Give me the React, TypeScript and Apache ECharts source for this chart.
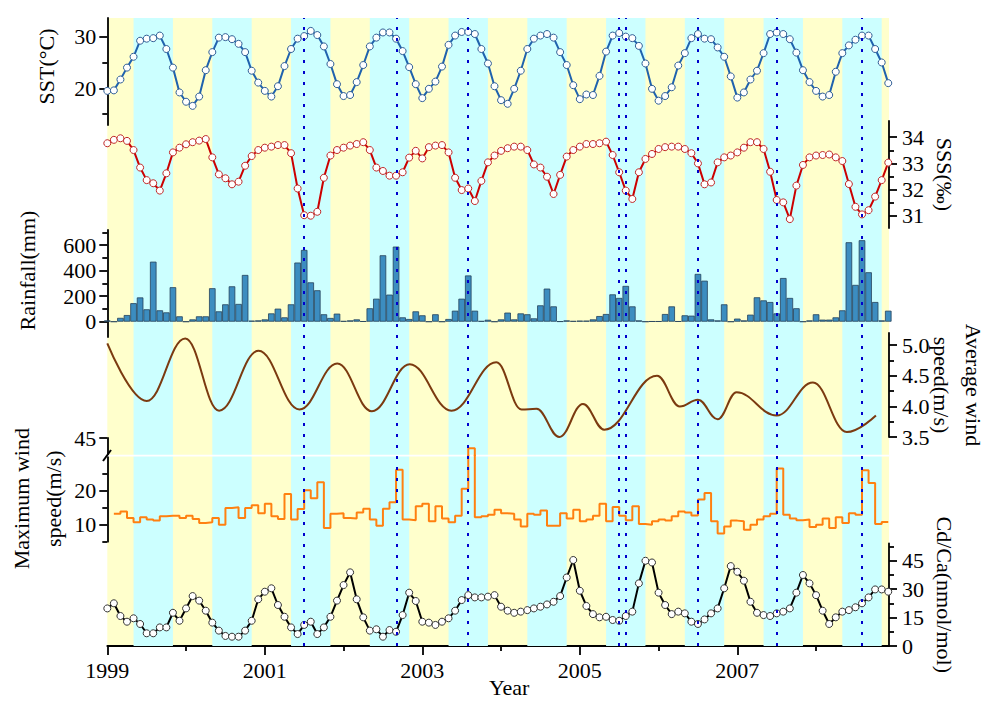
import React, { useEffect, useRef } from "react";
import * as echarts from "echarts";

// ---------- DATA ----------
const START_YEAR = 1999;
const monthX: number[] = Array.from({ length: 120 }, (_, i) => START_YEAR + i / 12);

const yearTicksMajor = [1999, 2001, 2003, 2005, 2007];
const yearTicksMinor = [2000, 2002, 2004, 2006, 2008];
const wetSeasonYears = [1999, 2000, 2001, 2002, 2003, 2004, 2005, 2006, 2007, 2008];
const WET_FIRST_MONTH = 5; // May
const WET_LAST_MONTH = 10; // October
const typhoonMonths: [number, number][] = [
  [2001, 7], [2002, 9], [2003, 8], [2005, 7], [2005, 8], [2006, 7], [2007, 7], [2008, 8],
];

const sst = [
  19.5, 19.6, 21.7, 24.0, 26.1, 29.2, 29.6, 29.7, 30.2, 27.6, 24.0, 19.2,
  17.4, 16.6, 18.4, 23.5, 27.0, 29.8, 29.9, 29.5, 28.6, 27.0, 23.4, 21.1,
  19.5, 18.4, 20.4, 24.3, 27.6, 29.6, 30.1, 31.1, 30.3, 28.1, 24.7, 20.8,
  18.5, 18.7, 21.2, 24.5, 28.1, 29.8, 30.8, 30.8, 29.6, 27.2, 24.1, 20.8,
  18.1, 19.9, 21.3, 24.2, 28.4, 30.2, 30.9, 30.9, 30.5, 27.6, 24.8, 20.4,
  17.7, 17.0, 19.9, 23.4, 27.6, 29.6, 30.2, 30.5, 29.8, 27.0, 24.5, 20.6,
  17.9, 18.8, 18.7, 22.4, 27.1, 30.2, 30.7, 30.0, 29.7, 28.2, 24.8, 19.9,
  17.6, 18.5, 20.2, 24.4, 26.8, 29.7, 30.5, 29.6, 29.5, 27.9, 26.1, 22.3,
  18.2, 19.2, 21.7, 23.4, 26.8, 30.5, 30.8, 30.5, 29.5, 26.9, 23.5, 21.2,
  19.5, 18.4, 18.7, 23.2, 26.8, 28.3, 29.4, 30.2, 30.2, 27.6, 25.0, 21.0,
];

const sss = [
  33.77, 33.90, 33.96, 33.86, 33.51, 32.84, 32.36, 32.24, 31.96, 32.62, 33.42, 33.60,
  33.73, 33.81, 33.87, 33.93, 33.23, 32.58, 32.43, 32.20, 32.30, 32.91, 33.28, 33.51,
  33.60, 33.64, 33.70, 33.70, 33.39, 32.04, 31.02, 31.00, 31.15, 32.45, 33.30, 33.51,
  33.60, 33.68, 33.74, 33.81, 33.51, 32.84, 32.71, 32.53, 32.53, 32.66, 33.22, 33.48,
  33.19, 33.62, 33.68, 33.70, 33.42, 32.45, 31.98, 32.04, 31.56, 32.33, 33.04, 33.30,
  33.48, 33.58, 33.64, 33.64, 33.51, 32.96, 32.84, 32.49, 31.83, 32.56, 33.26, 33.51,
  33.64, 33.74, 33.74, 33.77, 33.83, 33.32, 32.66, 31.96, 31.64, 32.66, 33.17, 33.36,
  33.55, 33.62, 33.64, 33.64, 33.55, 33.39, 33.00, 32.20, 32.27, 33.04, 33.23, 33.30,
  33.42, 33.60, 33.81, 33.81, 33.55, 32.68, 31.60, 31.51, 30.87, 32.15, 32.94, 33.23,
  33.30, 33.32, 33.34, 33.23, 33.09, 32.21, 31.34, 31.05, 31.21, 31.73, 32.36, 33.03,
];

const rainfall = [
  10, 0, 30, 52, 145, 190, 97, 470, 89, 73, 270, 42,
  0, 18, 42, 42, 262, 81, 136, 277, 139, 366, 8, 10,
  18, 65, 102, 34, 136, 463, 562, 308, 246, 58, 29, 63,
  5, 10, 18, 3, 105, 180, 520, 212, 588, 34, 21, 81,
  50, 0, 58, 0, 21, 86, 180, 362, 86, 5, 15, 0,
  18, 71, 18, 65, 58, 26, 128, 259, 120, 2, 10, 5,
  8, 8, 18, 44, 60, 214, 186, 280, 120, 10, 0, 3,
  3, 60, 120, 3, 50, 47, 374, 321, 18, 10, 136, 0,
  24, 10, 55, 191, 167, 154, 65, 342, 186, 105, 0, 10,
  58, 16, 16, 34, 89, 622, 288, 638, 387, 154, 10, 86,
];

// smoothed average wind speed: turning points [decimal year, m/s]
const avgWind: [number, number][] = [
  [1999.0, 5.03], [1999.5, 4.09], [1999.99, 5.11], [2000.42, 3.93], [2000.92, 4.91],
  [2001.44, 3.95], [2001.92, 4.70], [2002.36, 3.92], [2002.84, 4.69], [2003.37, 3.93],
  [2003.94, 4.72], [2004.26, 3.95], [2004.45, 3.96], [2004.74, 3.50], [2005.04, 4.04],
  [2005.31, 3.62], [2005.98, 4.50], [2006.27, 4.00], [2006.50, 4.11], [2006.75, 3.79],
  [2006.99, 4.23], [2007.50, 3.85], [2007.96, 4.39], [2008.39, 3.58], [2008.76, 3.85],
];

const maxWind: (number | null)[] = [
  null, 13.2, 13.9, 12.0, 10.7, 12.2, 11.5, 11.2, 12.5, 12.6, 12.6, 12.0,
  12.6, 11.7, 10.5, 10.7, 12.0, 10.0, 14.9, 15.1, 12.0, 14.9, 15.7, 13.4,
  16.2, 12.5, 11.7, 19.0, 11.5, 14.6, 20.1, 17.8, 22.5, 9.0, 13.2, 13.4,
  12.0, 11.8, 13.6, 14.7, 11.5, 9.7, 14.7, 16.6, 26.2, 11.5, 11.3, 15.4,
  16.2, 11.0, 15.4, 11.8, 10.7, 12.6, 20.6, 42.0, 12.2, 12.5, 12.9, 14.4,
  13.4, 13.2, 11.5, 9.5, 13.2, 12.9, 14.2, 9.7, 9.7, 13.4, 11.8, 14.4,
  11.0, 11.5, 12.6, 16.2, 11.0, 15.2, 12.6, 11.3, 15.4, 10.2, 10.0, 11.0,
  11.5, 11.2, 12.5, 13.9, 13.6, 12.7, 17.4, 19.3, 11.0, 7.4, 9.5, 11.2,
  11.0, 8.5, 10.0, 11.5, 12.5, 13.2, 26.5, 12.9, 11.8, 11.3, 11.5, 9.3,
  10.0, 11.8, 9.0, 12.2, 10.5, 13.4, 12.9, 26.0, 22.3, 10.2, 10.8, 10.8,
];

const cdca = [
  19.8, 22.5, 15.8, 12.8, 14.6, 11.6, 6.7, 6.7, 9.8, 9.8, 17.5, 13.3,
  19.8, 26.3, 23.9, 18.6, 12.3, 8.1, 5.3, 4.9, 4.9, 8.1, 13.3, 24.6,
  28.6, 30.4, 21.6, 15.4, 9.8, 6.3, 11.1, 12.8, 6.3, 9.8, 15.4, 23.9,
  32.1, 38.8, 24.6, 15.1, 8.1, 8.8, 4.9, 8.4, 7.5, 16.3, 28.1, 23.7,
  12.8, 12.3, 11.1, 12.8, 14.6, 18.6, 24.2, 26.8, 25.6, 25.6, 26.0, 26.8,
  20.7, 18.6, 17.5, 18.1, 18.9, 19.8, 20.7, 21.9, 23.3, 26.3, 36.1, 45.3,
  29.1, 21.1, 16.8, 15.1, 15.4, 13.7, 13.3, 15.8, 18.1, 33.0, 44.9, 44.0,
  28.1, 21.6, 16.8, 18.1, 17.2, 12.8, 11.6, 14.0, 17.2, 19.8, 30.4, 42.1,
  39.1, 34.4, 23.3, 17.5, 16.3, 15.8, 17.2, 18.1, 19.8, 28.1, 37.4, 33.0,
  26.8, 18.6, 11.6, 15.1, 18.1, 18.9, 20.4, 22.5, 25.6, 29.8, 29.8, 28.6,
];

// ---------- LAYOUT / STYLE ----------
const X_MIN = 1999;
const X_MAX = 2008.926;
const FONT = "'Liberation Serif', 'Times New Roman', serif";
const FS = 22;
const GL = 107.3;
const GW = 781.7;

const pairs = (arr: (number | null)[]) =>
  arr.map((v, i) => [monthX[i], v]).filter((d) => d[1] !== null);

const grid = (top: number, height: number) => ({
  left: GL, width: GW, top, height, show: false, outerBoundsMode: "none",
});

const xHidden = (gridIndex: number) => ({
  type: "value", gridIndex, min: X_MIN, max: X_MAX, show: false,
});

const lineStyleAxis = { color: "#000", width: 1.8 };

function yMain(gridIndex: number, position: string, min: number, max: number, major: number[], o: any) {
  return {
    type: "value", gridIndex, position, min, max,
    axisLine: { show: true, onZero: false, lineStyle: lineStyleAxis },
    axisTick: { show: true, customValues: major, length: 8, lineStyle: lineStyleAxis },
    axisLabel: {
      show: true, customValues: major, formatter: o.fmt || ((v: number) => String(v)),
      fontSize: FS, fontFamily: FONT, color: "#000", margin: o.margin,
    },
    splitLine: { show: false },
    name: o.name || "",
    nameLocation: "middle",
    nameGap: o.nameGap || 0,
    nameMoveOverlap: false,
    nameRotate: position === "right" ? -90 : 90,
    nameTextStyle: {
      fontSize: FS, fontFamily: FONT, color: "#000", lineHeight: o.lh || 30,
      padding: o.namePad || 0,
    },
  };
}

function yMinor(gridIndex: number, position: string, min: number, max: number, minor: number[]) {
  return {
    type: "value", gridIndex, position, min, max,
    axisLine: { show: false },
    axisTick: { show: true, customValues: minor, length: 5, lineStyle: lineStyleAxis },
    axisLabel: { show: false },
    splitLine: { show: false },
  };
}

export default function App() {
  const ref = useRef<HTMLDivElement>(null);

  useEffect(() => {
    if (!ref.current) return;
    const chart = echarts.init(ref.current, null, { renderer: "svg" });

    const wetBands = wetSeasonYears.map((y) => [
      { xAxis: y + (WET_FIRST_MONTH - 1) / 12 },
      { xAxis: y + WET_LAST_MONTH / 12 },
    ]);
    const typhoonLines = typhoonMonths.map(([y, m]) => ({ xAxis: y + (m - 1) / 12 }));

    const option: any = {
      animation: false,
      grid: [
        { left: GL, width: GW, top: 18, height: 628, show: true, backgroundColor: "#FFFFCC", borderWidth: 0, outerBoundsMode: "none" },
        grid(18, 107),      // 1 SST
        grid(121, 107),     // 2 SSS
        grid(230, 107),     // 3 Rainfall
        grid(333, 104),     // 4 Avg wind
        grid(438, 17),      // 5 Max wind upper
        grid(455.7, 86),    // 6 Max wind lower
        grid(543.5, 102.5), // 7 Cd/Ca
      ],
      xAxis: [
        xHidden(0), xHidden(1), xHidden(2), xHidden(3), xHidden(4), xHidden(5), xHidden(6),
        {
          type: "value", gridIndex: 7, position: "bottom", min: X_MIN, max: X_MAX,
          axisLine: { show: true, onZero: false, lineStyle: lineStyleAxis },
          axisTick: { show: true, customValues: yearTicksMajor, length: 9, lineStyle: lineStyleAxis },
          axisLabel: {
            show: true, customValues: yearTicksMajor, formatter: (v: number) => String(v),
            fontSize: FS, fontFamily: FONT, color: "#000", margin: 13,
          },
          splitLine: { show: false },
          name: "Year", nameLocation: "middle", nameGap: 30, nameMoveOverlap: false,
          nameTextStyle: { fontSize: FS, fontFamily: FONT, color: "#000", padding: [0, 0, 0, 22] },
        },
        {
          type: "value", gridIndex: 7, position: "bottom", min: X_MIN, max: X_MAX,
          axisLine: { show: false },
          axisTick: { show: true, customValues: yearTicksMinor, length: 5, lineStyle: lineStyleAxis },
          axisLabel: { show: false },
          splitLine: { show: false },
        },
      ],
      yAxis: [
        { type: "value", gridIndex: 0, min: 0, max: 1, show: false },                        // 0
        yMain(1, "left", 12.9, 33.6, [20, 30], { name: "SST(°C)", nameGap: 46, margin: 11, namePad: [0, 0, 0, 10] }), // 1
        yMinor(1, "left", 12.9, 33.6, [15, 25]),                                              // 2
        yMain(2, "right", 30.53, 34.62, [31, 32, 33, 34], { name: "SSS(‰)", nameGap: 40, margin: 13 }), // 3
        yMinor(2, "right", 30.53, 34.62, [31.5, 32.5, 33.5]),                                 // 4
        yMain(3, "left", -120, 718, [0, 200, 400, 600], { name: "Rainfall(mm)", nameGap: 65, margin: 11, namePad: [0, 0, 0, 26] }), // 5
        yMinor(3, "left", -120, 718, [100, 300, 500, 700]),                                   // 6
        yMain(4, "right", 3.5, 5.2, [3.5, 4.0, 4.5, 5.0], {
          name: "Average wind\nspeed(m/s)", nameGap: 36, lh: 32, margin: 13, fmt: (v: number) => v.toFixed(1),
        }),                                                                                   // 7
        yMinor(4, "right", 3.5, 5.2, [3.75, 4.25, 4.75]),                                     // 8
        yMain(5, "left", 40, 45, [45], { margin: 11 }),                                       // 9
        yMain(6, "left", 5, 30.3, [10, 20], { name: "Maximum wind\nspeed(m/s)", nameGap: 38, lh: 32, margin: 11 }), // 10
        yMinor(6, "left", 5, 30.3, [5, 15, 25]),                                              // 11
        yMain(7, "right", 0, 54, [0, 15, 30, 45], { name: "Cd/Ca(nmol/mol)", nameGap: 40, margin: 13 }), // 12
        yMinor(7, "right", 0, 54, [7.5, 22.5, 37.5, 52.5]),                                   // 13
      ],
      graphic: [
        { type: "rect", z: 1.5, silent: true, shape: { x: GL, y: 454.8, width: GW, height: 1.6 }, style: { fill: "#ffffff" } },
        { type: "line", z: 20, silent: true, shape: { x1: 103, y1: 461, x2: 111, y2: 450 }, style: { stroke: "#000", lineWidth: 2 } },
      ],
      series: [
        {
          name: "wet season", type: "line", xAxisIndex: 0, yAxisIndex: 0,
          data: [[X_MIN, -1]], showSymbol: false, silent: true, lineStyle: { width: 0 },
          markArea: { silent: true, z: 1, itemStyle: { color: "#CCFFFF" }, data: wetBands },
        },
        {
          name: "typhoon", type: "line", xAxisIndex: 0, yAxisIndex: 0,
          data: [[X_MIN, -1]], showSymbol: false, silent: true, lineStyle: { width: 0 },
          markLine: {
            silent: true, z: 5, symbol: ["none", "none"], label: { show: false },
            lineStyle: { color: "#0000CC", width: 2, type: [3, 8] },
            data: typhoonLines,
          },
        },
        {
          name: "SST", type: "line", xAxisIndex: 1, yAxisIndex: 1, data: pairs(sst),
          symbol: "circle", symbolSize: 7,
          itemStyle: { color: "#ffffff", borderColor: "#2F5E96", borderWidth: 1 },
          lineStyle: { color: "#1F62AE", width: 2 },
        },
        {
          name: "SSS", type: "line", xAxisIndex: 2, yAxisIndex: 3, data: pairs(sss),
          symbol: "circle", symbolSize: 7,
          itemStyle: { color: "#ffffff", borderColor: "#C02828", borderWidth: 1 },
          lineStyle: { color: "#CC0000", width: 2 },
        },
        {
          name: "Rainfall", type: "bar", xAxisIndex: 3, yAxisIndex: 5, data: pairs(rainfall),
          barWidth: 6.56,
          itemStyle: { color: "#3C8DC0", borderColor: "#24415A", borderWidth: 0.8 },
        },
        {
          name: "Average wind speed", type: "line", xAxisIndex: 4, yAxisIndex: 7, data: avgWind,
          showSymbol: false, smooth: 0.4, smoothMonotone: "x",
          lineStyle: { color: "#7B3A10", width: 2 },
        },
        {
          name: "Maximum wind speed (upper)", type: "line", xAxisIndex: 5, yAxisIndex: 9, data: pairs(maxWind),
          step: "end", showSymbol: false, clip: true,
          lineStyle: { color: "#FF8010", width: 2 },
        },
        {
          name: "Maximum wind speed", type: "line", xAxisIndex: 6, yAxisIndex: 10, data: pairs(maxWind),
          step: "end", showSymbol: false, clip: true,
          lineStyle: { color: "#FF8010", width: 2 },
        },
        {
          name: "Cd/Ca", type: "line", xAxisIndex: 7, yAxisIndex: 12, data: pairs(cdca),
          symbol: "circle", symbolSize: 7,
          itemStyle: { color: "#ffffff", borderColor: "#333333", borderWidth: 1 },
          lineStyle: { color: "#000000", width: 2 },
        },
      ],
    };

    chart.setOption(option);
    return () => chart.dispose();
  }, []);

  return (
    <div
      ref={ref}
      style={{ position: "absolute", left: 0, top: 0, width: 988, height: 703, background: "#ffffff" }}
    />
  );
}
